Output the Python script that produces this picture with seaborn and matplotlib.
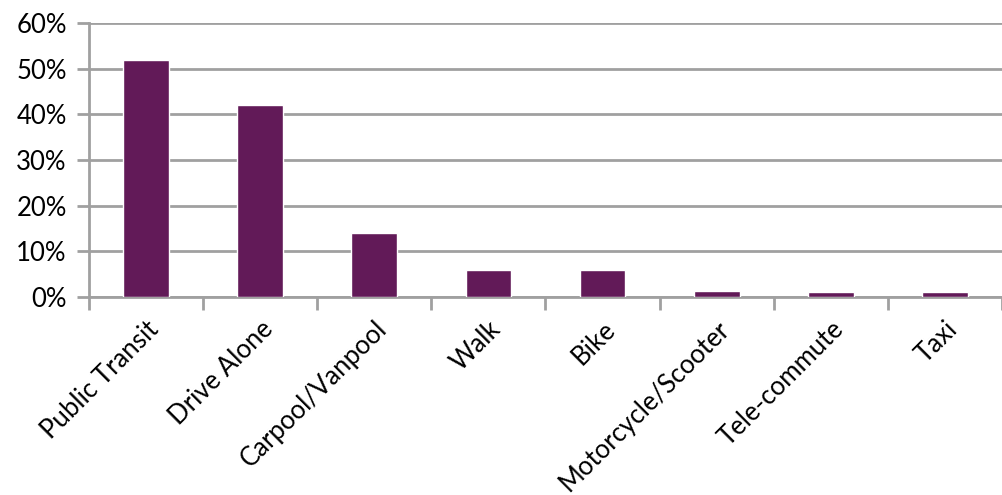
import matplotlib
matplotlib.use("Agg")
import matplotlib.pyplot as plt
from matplotlib.ticker import PercentFormatter
from matplotlib.transforms import ScaledTranslation
import seaborn as sns
import pandas as pd

modes = ["Public Transit", "Drive Alone", "Carpool/Vanpool", "Walk", "Bike",
         "Motorcycle/Scooter", "Tele-commute", "Taxi"]
shares = [0.52, 0.42, 0.14, 0.06, 0.06, 0.0125, 0.01, 0.01]

df = pd.DataFrame({"mode": modes, "share": shares})

sns.set_theme(style="white")
plt.rcParams["font.family"] = ["Lato", "DejaVu Sans"]

fig = plt.figure(figsize=(10.03, 4.95), dpi=100)
ax = fig.add_axes([89 / 1003, 1 - 297 / 495, (1002 - 89) / 1003, (297 - 23) / 495])

grid_col = "#a0a0a0"
sns.barplot(data=df, x="mode", y="share", color="#621a58", width=0.4,
            saturation=1, ax=ax, zorder=3)

ax.set_ylim(0, 0.6)
ax.set_xlim(-0.5, len(modes) - 0.5)
ax.set_yticks([0, 0.1, 0.2, 0.3, 0.4, 0.5, 0.6])
ax.yaxis.set_major_formatter(PercentFormatter(1.0, decimals=0))
ax.yaxis.grid(True, color=grid_col, linewidth=2, zorder=0)
ax.set_axisbelow(True)
ax.set_xlabel("")
ax.set_ylabel("")

for side in ["top", "right"]:
    ax.spines[side].set_visible(False)
for side in ["left", "bottom"]:
    ax.spines[side].set_color(grid_col)
    ax.spines[side].set_linewidth(2)

# x ticks sit on category boundaries, labels on category centres
ax.set_xticks([i - 0.5 for i in range(len(modes) + 1)], minor=False)
ax.set_xticklabels([])
ax.set_xticks(range(len(modes)), minor=True)
ax.set_xticklabels(modes, minor=True, rotation=45, ha="right", va="top",
                   rotation_mode="anchor", fontsize=18.5, color="#000000")
shift = ScaledTranslation(-8 / 100, 0, fig.dpi_scale_trans)
for lbl in ax.get_xticklabels(minor=True):
    lbl.set_transform(lbl.get_transform() + shift)
ax.tick_params(axis="x", which="major", direction="out", length=9,
               width=2, color=grid_col, bottom=True)
ax.tick_params(axis="x", which="minor", length=0, pad=14)
ax.tick_params(axis="y", direction="out", length=9, width=2, color=grid_col,
               left=True, labelsize=18.5, labelcolor="#000000", pad=7)

fig.savefig("out.png", dpi=100)
